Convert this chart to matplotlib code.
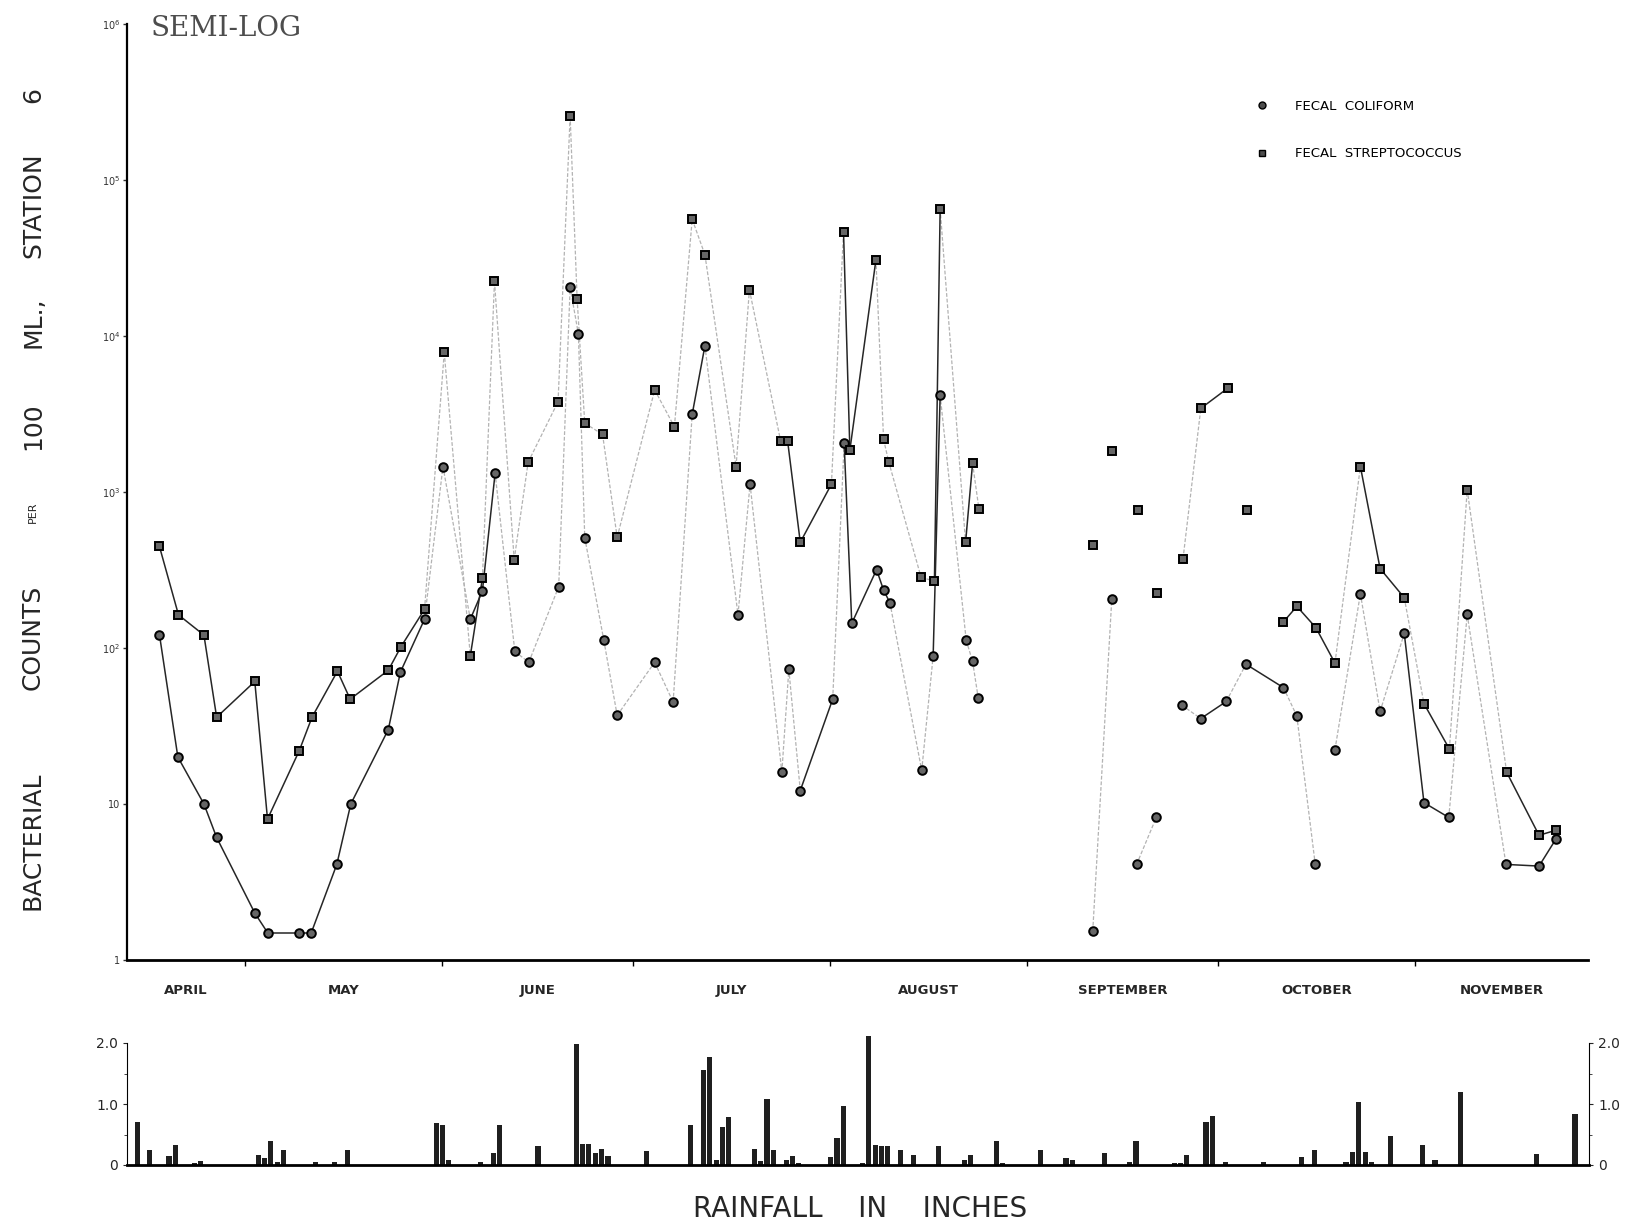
import numpy as np
import matplotlib.pyplot as plt
from matplotlib.lines import Line2D
from matplotlib.ticker import NullLocator

# day 0 = April 1
fc_day = [16.5, 19.4, 23.5, 25.5, 31.5, 33.5, 38.4, 40.4, 44.4, 46.6,
          52.5, 54.4, 58.2, 61.1, 65.4, 67.3, 69.3, 72.4, 74.6, 79.3,
          81.1, 82.4, 83.4, 86.4, 88.5, 94.4, 97.3, 100.3, 102.3, 107.5,
          109.4, 114.4, 115.5, 117.3, 122.4, 124.2, 125.4, 129.3, 130.4, 131.4,
          136.4, 138.2, 139.3, 143.4, 144.4, 145.3, 163.3, 166.3, 170.2, 173.3,
          177.3, 180.3, 184.3, 187.4, 193.3, 195.4, 198.3, 201.4, 205.4, 208.5,
          212.3, 215.4, 219.3, 222.2, 228.3, 233.5, 236.2]
fc_count = [122, 20, 10, 6.1, 2.0, 1.5, 1.5, 1.5, 4.1, 10,
            30, 70, 153, 1456, 153, 232, 1320, 95, 81, 247,
            20500, 10300, 510, 112, 37, 81, 45, 3150, 8650, 163,
            1123, 16, 73, 12.2, 47, 2055, 144, 318, 235, 195,
            16.4, 89, 4180, 112, 82, 47.5, 1.53, 207, 4.1, 8.2,
            43, 35.3, 45.4, 78.7, 55.7, 36.7, 4.1, 22.3, 223, 39.2,
            124, 10.2, 8.2, 164, 4.1, 4.0, 6.0]

fs_day = [16.5, 19.5, 23.5, 25.5, 31.5, 33.5, 38.5, 40.5, 44.5, 46.5,
          52.5, 54.5, 58.2, 61.3, 65.4, 67.3, 69.2, 72.3, 74.5, 79.2,
          81.1, 82.2, 83.4, 86.2, 88.5, 94.4, 97.5, 100.3, 102.3, 107.2,
          109.3, 114.2, 115.3, 117.3, 122.2, 124.1, 125.1, 129.2, 130.4, 131.2,
          136.3, 138.4, 139.3, 143.3, 144.4, 145.4, 163.3, 166.3, 170.4, 173.4,
          177.5, 180.3, 184.5, 187.5, 193.3, 195.4, 198.4, 201.4, 205.4, 208.5,
          212.3, 215.4, 219.4, 222.2, 228.4, 233.5, 236.2]
fs_count = [448, 163, 121, 36, 61, 8.0, 22, 36, 71, 47,
            72, 102, 177, 7840, 89, 279, 22400, 369, 1554, 3790,
            258000, 17300, 2760, 2340, 512, 4510, 2620, 56000, 33200, 1456,
            19800, 2135, 2135, 476, 1123, 46700, 1858, 30800, 2177, 1566,
            284, 268, 65200, 476, 1528, 778, 455, 1845, 763, 226,
            373, 3437, 4617, 763, 147, 185, 135, 80, 1456, 323,
            210, 44, 22.5, 1035, 16, 6.3, 6.8]

rain_day = [13, 15, 18, 19, 22, 23, 32, 33, 34, 35, 36, 41, 44, 46,
            60, 61, 62, 67, 69, 70, 76, 82, 83, 84, 85, 86, 87, 93,
            100, 102, 103, 104, 105, 106, 110, 111, 112, 113, 115, 116, 117,
            122, 123, 124, 127, 128, 129, 130, 131, 133, 135, 139, 143, 144,
            148, 149, 155, 159, 160, 165, 169, 170, 176, 177, 178, 181, 182, 184,
            190, 196, 198, 203, 204, 205, 206, 207, 210, 215, 217, 221, 233, 239]
rain_in = [0.70, 0.24, 0.15, 0.32, 0.03, 0.07, 0.16, 0.11, 0.39, 0.05, 0.24, 0.05, 0.05, 0.24,
           0.69, 0.66, 0.08, 0.05, 0.19, 0.66, 0.31, 1.98, 0.35, 0.35, 0.20, 0.27, 0.15, 0.23,
           0.65, 1.55, 1.77, 0.08, 0.62, 0.78, 0.26, 0.06, 1.08, 0.25, 0.08, 0.15, 0.04,
           0.13, 0.45, 0.96, 0.04, 2.12, 0.33, 0.31, 0.31, 0.24, 0.16, 0.31, 0.08, 0.17,
           0.40, 0.04, 0.24, 0.12, 0.09, 0.20, 0.05, 0.40, 0.04, 0.04, 0.17, 0.70, 0.81, 0.05,
           0.05, 0.13, 0.24, 0.05, 0.21, 1.04, 0.21, 0.05, 0.47, 0.33, 0.08, 1.20, 0.18, 0.84]

months = ["APRIL", "MAY", "JUNE", "JULY", "AUGUST", "SEPTEMBER", "OCTOBER", "NOVEMBER"]
month_start = [0, 30, 61, 91, 122, 153, 183, 214, 244]

x0, x1 = 11.4, 241.2

# which connecting segments are inked solid, and which are left out
fc_solid = set(range(0, 12)) | {14, 15, 27, 33, 35, 36, 37, 38, 41, 51, 53, 60, 61, 64, 65}
fc_skip = {45, 47, 49, 56}
fs_solid = set(range(0, 12)) | {14, 32, 33, 35, 36, 41, 43, 51, 54, 55, 56, 58, 59, 61, 64, 65}
fs_skip = {45, 46, 47, 48, 49, 52, 53}

W, H = 1630, 1225
fig = plt.figure(figsize=(W / 100, H / 100), dpi=100)
ax = fig.add_axes([127 / W, 1 - 960 / H, (1588 - 127) / W, (960 - 24) / H])
axr = fig.add_axes([127 / W, 1 - 1165 / H, (1589 - 127) / W, (1165 - 1043) / H])

solid = dict(color="0.15", lw=1.1, ls="-", zorder=2)
faint = dict(color="0.7", lw=0.9, ls=(0, (3, 1.5)), zorder=1)


def draw_series(days, vals, marker, ms, solid_segs, skip_segs):
    for i in range(len(days) - 1):
        if i in skip_segs:
            continue
        style = solid if i in solid_segs else faint
        ax.plot(days[i:i + 2], vals[i:i + 2], **style)
    ax.plot(days, vals, ls="none", marker=marker, ms=ms, mfc="0.4",
            mec="black", mew=1.4, zorder=3)


draw_series(fc_day, fc_count, "o", 6.2, fc_solid, fc_skip)
draw_series(fs_day, fs_count, "s", 5.6, fs_solid, fs_skip)

ax.set_yscale("log")
ax.set_ylim(1, 1e6)
ax.set_xlim(x0, x1)
for s in ["top", "right"]:
    ax.spines[s].set_visible(False)
ax.spines["left"].set_linewidth(1.6)
ax.spines["bottom"].set_linewidth(2.0)
ax.set_yticks([1, 10, 1e2, 1e3, 1e4, 1e5, 1e6])
ax.set_yticklabels(["1", "10", r"$10^2$", r"$10^3$", r"$10^4$", r"$10^5$", r"$10^6$"])
ax.yaxis.set_minor_locator(NullLocator())
ax.tick_params(axis="y", direction="out", length=3, width=1, labelsize=7, pad=2, colors="0.2")

bounds = [m for m in month_start if x0 < m < x1]
mids = [(max(a, x0) + min(b, x1)) / 2 for a, b in zip(month_start[:-1], month_start[1:])]
ax.set_xticks(bounds)
ax.set_xticklabels([])
ax.set_xticks(mids, minor=True)
ax.set_xticklabels(months, minor=True, fontweight="bold")
ax.tick_params(axis="x", which="major", direction="out", length=4, width=1)
ax.tick_params(axis="x", which="minor", length=0, pad=17, labelsize=9.5, colors="0.15")

handles = [Line2D([], [], ls="none", marker="o", ms=5, mfc="0.3", mec="black"),
           Line2D([], [], ls="none", marker="s", ms=4.5, mfc="0.3", mec="black")]
fig.legend(handles, ["FECAL  COLIFORM", "FECAL  STREPTOCOCCUS"], loc="upper left",
           bbox_to_anchor=(1255 / W, 1 - 100 / H), frameon=False, fontsize=9.5,
           handlelength=1.0, handletextpad=2.0, labelspacing=2.6, borderpad=0,
           borderaxespad=0)

# rainfall panel
axr.bar(rain_day, rain_in, width=0.8, color="0.12", clip_on=False)
axr.set_xlim(x0, x1)
axr.set_ylim(0, 2)
axr.spines["top"].set_visible(False)
axr.spines["bottom"].set_linewidth(2.0)
axr.set_xticks([])
axr.set_yticks([0, 1, 2])
axr.set_yticklabels(["0", "1.0", "2.0"])
axr.set_yticks([0.5, 1.5], minor=True)
axr.tick_params(axis="y", which="both", left=True, right=True, labelleft=True,
                labelright=True, direction="out", labelsize=10, colors="0.15")
axr.tick_params(axis="y", which="major", length=3)
axr.tick_params(axis="y", which="minor", length=2)

# titles and axis captions
fig.text(151 / W, 1 - 29 / H, "SEMI-LOG", family="DejaVu Serif", fontsize=20,
         ha="left", va="center", color="0.3")

ylabel_parts = [("BACTERIAL", 841, 18), ("COUNTS", 637, 18), ("PER", 512, 8),
                ("100", 426, 18), ("ML.,", 322, 18), ("STATION", 205, 18), ("6", 95, 18)]
for word, ypix, size in ylabel_parts:
    fig.text(33 / W, 1 - ypix / H, word, rotation=90, ha="center", va="center",
             fontsize=size, color="0.15")

fig.text(860 / W, 1 - 1209 / H, "RAINFALL    IN    INCHES", ha="center", va="center",
         fontsize=20, color="0.15")

fig.savefig("out.png", dpi=100)
